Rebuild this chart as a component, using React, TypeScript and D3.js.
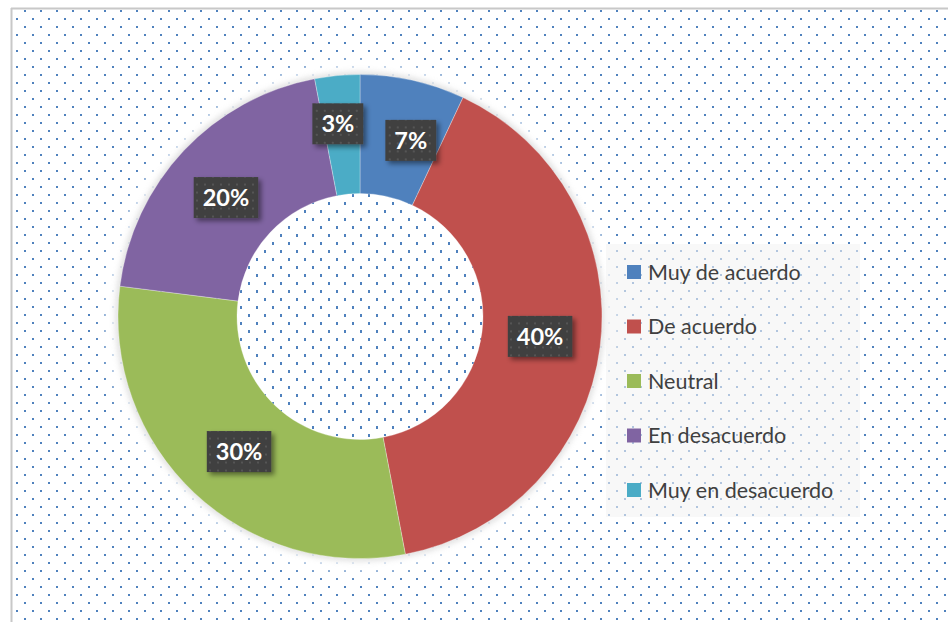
import React, { useEffect, useRef } from "react";
import * as d3 from "d3";

const categories = ["Muy de acuerdo", "De acuerdo", "Neutral", "En desacuerdo", "Muy en desacuerdo"];
const values = [7, 40, 30, 20, 3];
const labels = ["7%", "40%", "30%", "20%", "3%"];
const colors = ["#4f81bd", "#c0504d", "#9bbb59", "#8064a2", "#4bacc6"];
// small data-label nudges (Excel moves crowded labels apart)
const labelNudge: [number, number][] = [[11, 2], [-1, -3], [4, 2], [-1, 6], [-5, -11]];

const W = 948;
const H = 622;

export default function App() {
  const ref = useRef<SVGSVGElement | null>(null);

  useEffect(() => {
    const svg = d3.select(ref.current);
    svg.selectAll("*").remove();
    const defs = svg.append("defs");

    const cx = 360, cy = 316.5, R = 242, r = 123;

    const pat = defs.append("pattern").attr("id", "dots").attr("patternUnits", "userSpaceOnUse")
      .attr("width", 16).attr("height", 16);
    pat.append("rect").attr("x", 0).attr("y", 2).attr("width", 2).attr("height", 2).attr("fill", "#4f81bd");
    pat.append("rect").attr("x", 8).attr("y", 10).attr("width", 2).attr("height", 2).attr("fill", "#4f81bd");

    const lpat = defs.append("pattern").attr("id", "ldots").attr("patternUnits", "userSpaceOnUse")
      .attr("width", 8).attr("height", 8);
    lpat.append("rect").attr("width", 8).attr("height", 8).attr("fill", "#404040");
    lpat.append("rect").attr("x", 2).attr("y", 2).attr("width", 2).attr("height", 2).attr("fill", "#555555");

    const blur1 = defs.append("filter").attr("id", "halo").attr("x", "-20%").attr("y", "-20%").attr("width", "140%").attr("height", "140%");
    blur1.append("feGaussianBlur").attr("stdDeviation", 7);
    const blur2 = defs.append("filter").attr("id", "halo2").attr("x", "-20%").attr("y", "-20%").attr("width", "140%").attr("height", "140%");
    blur2.append("feGaussianBlur").attr("stdDeviation", 3);

    const sh = defs.append("filter").attr("id", "shadow").attr("x", "-30%").attr("y", "-30%").attr("width", "170%").attr("height", "170%");
    sh.append("feDropShadow").attr("dx", 3).attr("dy", 3).attr("stdDeviation", 2.5)
      .attr("flood-color", "#000").attr("flood-opacity", 0.45);

    // background
    svg.append("rect").attr("x", 0).attr("y", 0).attr("width", W).attr("height", H).attr("fill", "#ffffff");
    svg.append("rect").attr("x", 12).attr("y", 9).attr("width", W - 12).attr("height", H - 9).attr("fill", "url(#dots)");
    svg.append("line").attr("x1", 11.5).attr("x2", 11.5).attr("y1", 8).attr("y2", H).attr("stroke", "#c8c8c8").attr("stroke-width", 2);
    svg.append("line").attr("x1", 11).attr("x2", W).attr("y1", 8.5).attr("y2", 8.5).attr("stroke", "#c8c8c8").attr("stroke-width", 2);

    const g = svg.append("g").attr("transform", `translate(${cx},${cy})`);

    // halo around pie, drawn as rings so the hole keeps the background
    const ring = d3.arc<any>();
    g.append("path")
      .attr("d", ring({ innerRadius: R - 6, outerRadius: R + 12, startAngle: 0, endAngle: 2 * Math.PI }) as string)
      .attr("fill", "#ffffff").attr("filter", "url(#halo)");
    g.append("path")
      .attr("d", ring({ innerRadius: R - 4, outerRadius: R + 2, startAngle: 0, endAngle: 2 * Math.PI }) as string)
      .attr("fill", "#c0c0c0").attr("opacity", 0.6).attr("filter", "url(#halo2)");

    const pie = d3.pie<number>().sort(null).value((d) => d);
    const arcs = pie(values);
    const arc = d3.arc<d3.PieArcDatum<number>>().innerRadius(r).outerRadius(R);

    g.selectAll("path.slice").data(arcs).enter().append("path").attr("class", "slice")
      .attr("d", arc as any).attr("fill", (_d, i) => colors[i])
      .attr("stroke", "#ffffff").attr("stroke-width", 0.5).attr("stroke-opacity", 0.6);

    // background dots inside the hole
    const holeDots: [number, number][] = [];
    for (let y = 3; y < H; y += 8) {
      const x0 = y % 16 === 3 ? 0 : 8;
      for (let x = x0; x < W; x += 16) {
        const dx = x + 1 - cx, dy = y + 1 - cy;
        if (dx * dx + dy * dy < (r - 1.5) * (r - 1.5)) holeDots.push([x, y]);
      }
    }
    svg.append("g").selectAll("rect").data(holeDots).enter().append("rect")
      .attr("x", (d) => d[0]).attr("y", (d) => d[1]).attr("width", 2).attr("height", 2).attr("fill", "#4f81bd");

    // legend background
    svg.append("rect").attr("x", 606).attr("y", 244).attr("width", 254).attr("height", 273)
      .attr("fill", "#f4f4f4").attr("opacity", 0.6);

    // labels
    const lab = g.selectAll("g.lab").data(arcs).enter().append("g").attr("class", "lab")
      .attr("transform", (d, i) => {
        const [x, y] = arc.centroid(d);
        return `translate(${x + labelNudge[i][0]},${y + labelNudge[i][1]})`;
      });
    lab.each(function (_d, i) {
      const sel = d3.select(this);
      const t = sel.append("text").text(labels[i]).attr("text-anchor", "middle").attr("dy", "0.36em")
        .attr("font-family", "Lato, 'Open Sans', sans-serif").attr("font-weight", "bold")
        .attr("font-size", 23.5).attr("fill", "#ffffff");
      const w = (t.node() as SVGTextElement).getComputedTextLength();
      const bw = w + 18, bh = 41;
      sel.insert("rect", "text").attr("x", -bw / 2).attr("y", -bh / 2).attr("width", bw).attr("height", bh)
        .attr("fill", "url(#ldots)").attr("filter", "url(#shadow)");
    });

    // legend
    const leg = svg.append("g").attr("transform", "translate(627,272)");
    const items = leg.selectAll("g").data(categories).enter().append("g")
      .attr("transform", (_d, i) => `translate(0,${i * 54.5})`);
    items.append("rect").attr("x", 0).attr("y", -7).attr("width", 14).attr("height", 14).attr("fill", (_d, i) => colors[i]);
    items.append("text").attr("x", 21).attr("y", 0).attr("dy", "0.36em").text((d) => d)
      .attr("font-family", "Lato, 'Open Sans', sans-serif").attr("font-size", 21.5).attr("fill", "#404040");
  }, []);

  return (
    <svg ref={ref} width={W} height={H} style={{ position: "absolute", left: 0, top: 0, display: "block" }} />
  );
}
